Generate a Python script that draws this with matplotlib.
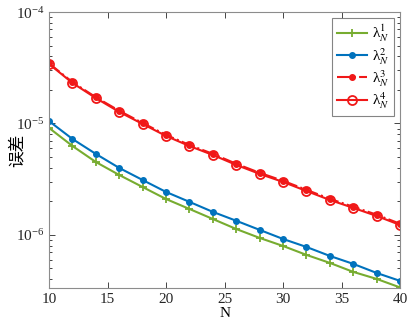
import matplotlib
matplotlib.use("Agg")
import matplotlib.pyplot as plt
from matplotlib.ticker import LogLocator, NullFormatter

plt.rcParams['font.family'] = ['Liberation Serif', 'Noto Sans CJK SC', 'DejaVu Sans']
plt.rcParams['mathtext.fontset'] = 'stix'

N = [10, 12, 14, 16, 18, 20, 22, 24, 26, 28, 30, 32, 34, 36, 38, 40]
lam1 = [9.12e-6, 6.28e-6, 4.51e-6, 3.45e-6, 2.69e-6, 2.10e-6, 1.71e-6, 1.39e-6,
        1.13e-6, 9.4e-7, 7.96e-7, 6.62e-7, 5.61e-7, 4.66e-7, 4.03e-7, 3.38e-7]
lam2 = [1.05e-5, 7.26e-6, 5.33e-6, 3.99e-6, 3.11e-6, 2.43e-6, 1.98e-6, 1.61e-6,
        1.34e-6, 1.11e-6, 9.2e-7, 7.8e-7, 6.48e-7, 5.5e-7, 4.56e-7, 3.87e-7]
lam3 = [3.46e-5, 2.35e-5, 1.72e-5, 1.30e-5, 1.01e-5, 7.9e-6, 6.42e-6, 5.34e-6,
        4.35e-6, 3.61e-6, 3.06e-6, 2.54e-6, 2.11e-6, 1.79e-6, 1.52e-6, 1.26e-6]
lam4 = [3.42e-5, 2.31e-5, 1.69e-5, 1.27e-5, 9.9e-6, 7.73e-6, 6.28e-6, 5.22e-6,
        4.25e-6, 3.53e-6, 2.99e-6, 2.48e-6, 2.06e-6, 1.75e-6, 1.48e-6, 1.23e-6]
labels = ['λ$_N^1$', 'λ$_N^2$', 'λ$_N^3$', 'λ$_N^4$']

green = '#77AC30'
blue = '#0072BD'
red = '#F01818'

fig = plt.figure(figsize=(4.09, 3.26), dpi=100)
ax = fig.add_axes([0.120, 0.117, 0.858, 0.846])

ax.semilogy(N, lam1, '-', color=green, marker='+', ms=6, mew=1.3, lw=1.5,
            label=labels[0])
ax.semilogy(N, lam2, '-', color=blue, marker='o', ms=4, lw=1.5,
            label=labels[1])
ax.semilogy(N, lam3, '-.', color=red, marker='o', ms=4, lw=1.5,
            label=labels[2])
ax.semilogy(N, lam4, '-', color=red, marker='o', ms=6.5, mfc='none', mew=1.3,
            lw=1.5, label=labels[3])

ax.set_xlim(10, 40)
ax.set_ylim(3.35e-7, 1e-4)
ax.set_xticks([10, 15, 20, 25, 30, 35, 40])
ax.yaxis.set_minor_locator(LogLocator(base=10, subs=range(2, 10)))
ax.yaxis.set_minor_formatter(NullFormatter())
ax.tick_params(which='both', direction='in', top=True, right=True,
               labelsize=11, colors='#262626', width=0.6)
ax.tick_params(which='major', length=4)
ax.tick_params(which='minor', length=2)
for s in ax.spines.values():
    s.set_color('#8c8c8c')
    s.set_linewidth(0.8)

ax.set_xlabel('N', fontsize=11, labelpad=1)
ax.set_ylabel('误差', fontsize=12, family=['Noto Sans CJK SC', 'DejaVu Sans'])
ax.yaxis.set_label_coords(-0.068, 0.5)

leg = ax.legend(loc='upper right', fontsize=11, handlelength=2.0,
                fancybox=False, borderaxespad=0.4, labelspacing=0.1,
                handletextpad=0.3, borderpad=0.3)
leg.get_frame().set_edgecolor('#666666')
leg.get_frame().set_linewidth(0.8)

fig.savefig('out.png', dpi=100)
plt.close()
